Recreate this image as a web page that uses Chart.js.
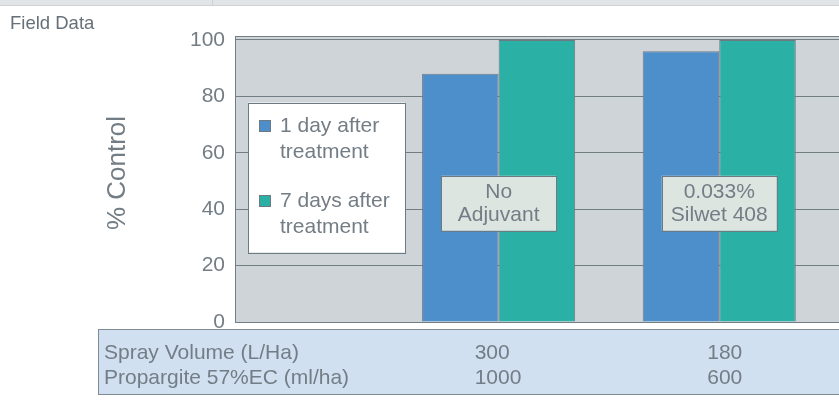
<!DOCTYPE html>
<html>
<head>
<meta charset="utf-8">
<script src="https://cdn.jsdelivr.net/npm/chart.js@4/dist/chart.umd.min.js"></script>
<style>
  html, body { margin: 0; padding: 0; background: #fff; overflow: hidden; }
  .wrap { position: relative; width: 860px; height: 405px; }
  .band { position: absolute; left: 0; top: 0; width: 839px; height: 5px; background: #e2e5e8; border-bottom: 1px solid #cdd2d6; z-index: 2; }
  .band .div { position: absolute; left: 212px; top: 0; width: 1px; height: 5px; background: #cdd2d6; }
  canvas { position: absolute; left: 0; top: 0; }
</style>
</head>
<body>
<div class="wrap">
  <div class="band"><div class="div"></div></div>
  <canvas id="chart" width="860" height="405"></canvas>
</div>
<script>
// data
const groups = [["No", "Adjuvant"], ["0.033%", "Silwet 408"]];
const oneDay = [88, 96];
const sevenDays = [100, 100];
const seriesLabels = [["1 day after", "treatment"], ["7 days after", "treatment"]];
const yTicks = [0, 20, 40, 60, 80, 100];
const rowLabels = ["Spray Volume (L/Ha)", "Propargite 57%EC (ml/ha)"];
const sprayVolume = [300, 180];
const propargite = [1000, 600];

const TEXT = "#737d85";
const LINE = "#737d84";
const FONT = "'Liberation Sans', Arial, Helvetica, sans-serif";

const toPoints = arr => arr.map((v, i) => ({ x: i + 1, y: v }));

const extras = {
  id: "extras",
  beforeDraw(chart) {
    const { ctx, chartArea: a } = chart;
    ctx.save();
    ctx.fillStyle = "#cfd4d8";
    ctx.fillRect(a.left, a.top, a.right - a.left, a.bottom - a.top);
    ctx.restore();
  },
  beforeDatasetsDraw(chart) {
    const { ctx, chartArea: a } = chart;
    ctx.save();
    ctx.strokeStyle = LINE;
    ctx.lineWidth = 1;
    ctx.beginPath();
    ctx.moveTo(a.left, a.top + 0.5);
    ctx.lineTo(a.right, a.top + 0.5);
    ctx.stroke();
    ctx.restore();
  },
  afterDatasetsDraw(chart) {
    const { ctx, chartArea: a, scales } = chart;
    const x = scales.x, y = scales.y;
    ctx.save();

    // group label boxes
    ctx.font = "21px " + FONT;
    ctx.textAlign = "center";
    ctx.textBaseline = "middle";
    groups.forEach((lines, i) => {
      const cx = x.getPixelForValue(i + 1);
      const cy = y.getPixelForValue(42.1);
      const w = 115, h = 55;
      ctx.fillStyle = "#dce5e0";
      ctx.fillRect(cx - w / 2, cy - h / 2, w, h);
      ctx.strokeStyle = "#6e7a82";
      ctx.lineWidth = 1;
      ctx.strokeRect(Math.round(cx - w / 2) + 0.5, Math.round(cy - h / 2) + 0.5, w, h);
      ctx.fillStyle = TEXT;
      ctx.fillText(lines[0], cx, cy - 11.5);
      ctx.fillText(lines[1], cx, cy + 12);
    });

    // legend box
    const lx = a.left + 13, ly = a.top + 66.5, lw = 157, lh = 150;
    ctx.fillStyle = "#ffffff";
    ctx.fillRect(lx, ly, lw, lh);
    ctx.strokeStyle = "#6e7a82";
    ctx.strokeRect(Math.round(lx) + 0.5, Math.round(ly) + 0.5, lw, lh);
    ctx.textAlign = "left";
    chart.data.datasets.forEach((ds, i) => {
      const top = ly + 23.5 + i * 75;
      ctx.fillStyle = ds.backgroundColor;
      ctx.fillRect(lx + 11, top - 6, 12, 12);
      ctx.strokeStyle = "#6e7a82";
      ctx.strokeRect(lx + 11.5, top - 5.5, 11, 11);
      ctx.fillStyle = TEXT;
      seriesLabels[i].forEach((t, j) => ctx.fillText(t, lx + 32, top + j * 26));
    });
    ctx.restore();
  },
  afterDraw(chart) {
    const { ctx, chartArea: a, scales } = chart;
    const x = scales.x;
    ctx.save();

    // title
    ctx.fillStyle = "#657078";
    ctx.font = "18.5px " + FONT;
    ctx.textBaseline = "middle";
    ctx.fillText("Field Data", 10, 24);

    // y axis title
    ctx.save();
    ctx.translate(118, 173);
    ctx.rotate(-Math.PI / 2);
    ctx.textAlign = "center";
    ctx.fillStyle = TEXT;
    ctx.font = "26px " + FONT;
    ctx.fillText("% Control", 0, 0);
    ctx.restore();

    // table under the plot
    const tTop = a.bottom + 7, tLeft = 98, tH = 65;
    ctx.fillStyle = "#d0e0f1";
    ctx.fillRect(tLeft, tTop, chart.width - tLeft, tH);
    ctx.strokeStyle = "#7f8a92";
    ctx.lineWidth = 1;
    ctx.strokeRect(tLeft + 0.5, tTop + 0.5, chart.width, tH);
    ctx.fillStyle = TEXT;
    ctx.font = "21px " + FONT;
    ctx.textAlign = "left";
    const rows = [sprayVolume, propargite];
    const colShift = [-24, -12];
    rows.forEach((vals, r) => {
      const cy = tTop + 24.5 + r * 25;
      ctx.fillText(rowLabels[r], 104, cy);
      vals.forEach((v, i) => {
        ctx.fillText(String(v), x.getPixelForValue(i + 1) + colShift[i], cy);
      });
    });
    ctx.restore();
  }
};

new Chart(document.getElementById("chart"), {
  type: "bar",
  data: {
    datasets: [
      {
        label: seriesLabels[0].join(" "),
        data: toPoints(oneDay),
        backgroundColor: "#4d8fcb",
        borderColor: "#6e7a82",
        borderWidth: 1
      },
      {
        label: seriesLabels[1].join(" "),
        data: toPoints(sevenDays),
        backgroundColor: "#2bb0a5",
        borderColor: "#6e7a82",
        borderWidth: 1
      }
    ]
  },
  options: {
    responsive: false,
    animation: false,
    categoryPercentage: 0.694,
    barPercentage: 1,
    layout: { padding: { left: 0, top: 36, right: 0, bottom: 83 } },
    plugins: {
      legend: { display: false },
      tooltip: { enabled: false }
    },
    scales: {
      x: {
        type: "linear",
        display: false,
        offset: false,
        min: -0.195,
        max: 2.638,
        afterBuildTicks: s => { s.ticks = [{ value: 1 }, { value: 2 }]; }
      },
      y: {
        min: 0,
        max: 101.4,
        afterBuildTicks: s => { s.ticks = yTicks.map(v => ({ value: v })); },
        afterFit: s => { s.width = 235; },
        grid: { color: LINE, lineWidth: 1, drawTicks: false },
        border: { color: LINE, width: 1 },
        ticks: {
          color: TEXT,
          padding: 10,
          font: { family: FONT, size: 21 }
        }
      }
    }
  },
  plugins: [extras]
});
</script>
</body>
</html>
